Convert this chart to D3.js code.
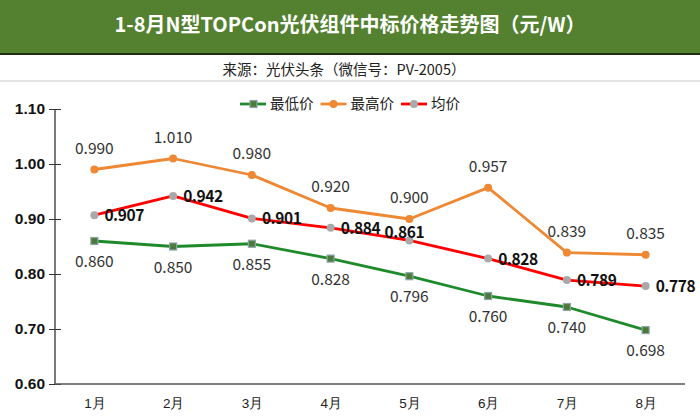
<!DOCTYPE html>
<html><head><meta charset="utf-8">
<script src="https://cdn.jsdelivr.net/npm/d3@7"></script>
<style>
body{margin:0;background:#fff;}
svg{display:block;font-family:"Noto Sans CJK SC","Noto Sans",sans-serif;}
</style></head>
<body><svg id="c" width="700" height="420"></svg>
<script>
const months = ["1月","2月","3月","4月","5月","6月","7月","8月"];
const minPrice = [0.860,0.850,0.855,0.828,0.796,0.760,0.740,0.698];
const maxPrice = [0.990,1.010,0.980,0.920,0.900,0.957,0.839,0.835];
const avgPrice = [0.907,0.942,0.901,0.884,0.861,0.828,0.789,0.778];
const yTicks = [0.60,0.70,0.80,0.90,1.00,1.10];
const seriesNames = ["最低价","最高价","均价"];
const titleText = "1-8月N型TOPCon光伏组件中标价格走势图（元/W）";
const sourceText = "来源：光伏头条（微信号：PV-2005）";

const svg = d3.select("#c");
const W = 700;

// header
svg.append("rect").attr("x",0).attr("y",0).attr("width",W).attr("height",53).attr("fill","#53812f");
svg.append("rect").attr("x",0).attr("y",53).attr("width",W).attr("height",2).attr("fill","#1d2e12");
svg.append("text").attr("x",350).attr("y",32).attr("text-anchor","middle")
  .attr("fill","#fff").attr("font-size",20).attr("font-weight","bold").text(titleText);
svg.append("text").attr("x",344).attr("y",75).attr("text-anchor","middle")
  .attr("fill","#222").attr("font-size",14.5).text(sourceText);
svg.append("rect").attr("x",0).attr("y",80).attr("width",W).attr("height",2).attr("fill","#e4e4e4");

const x = d3.scalePoint().domain(months).range([55,685]).padding(0.5);
const y = d3.scaleLinear().domain([0.6,1.1]).range([384,109]);

// y axis
const yAxis = svg.append("g").attr("transform","translate(55,0)")
  .call(d3.axisLeft(y).tickValues(yTicks).tickFormat(d3.format(".2f")).tickSizeInner(6).tickSizeOuter(0));
yAxis.select(".domain").attr("stroke","#333").attr("stroke-width",1.3);
yAxis.selectAll(".tick line").attr("stroke","#333").attr("x2",-6).attr("x1",6);
yAxis.selectAll(".tick text").attr("x",-10).attr("font-size",15.5).attr("font-weight","bold")
  .attr("fill","#111").attr("font-family","'Liberation Sans',Arial,sans-serif");
yAxis.select(".domain").attr("d","M0,109V384");

// x axis
const xAxis = svg.append("g").attr("transform","translate(0,384)")
  .call(d3.axisBottom(x).tickSize(0).tickPadding(14));
xAxis.select(".domain").attr("stroke","#555").attr("stroke-width",1.5).attr("d","M55,0H685");
xAxis.selectAll(".tick text").attr("font-size",13.5).attr("fill","#222");

const line = d3.line().x((d,i)=>x(months[i])).y(d=>y(d));

// series
const colors = {min:"#1f8a2b", max:"#ee8833", avg:"#ff0000"};
function drawLine(data,color){
  svg.append("path").datum(data).attr("d",line).attr("fill","none")
    .attr("stroke",color).attr("stroke-width",2.8).attr("stroke-linejoin","round");
}
drawLine(maxPrice,colors.max);
drawLine(minPrice,colors.min);
drawLine(avgPrice,colors.avg);

// markers
svg.append("g").selectAll("circle").data(maxPrice).join("circle")
  .attr("cx",(d,i)=>x(months[i])).attr("cy",d=>y(d)).attr("r",4).attr("fill",colors.max);
svg.append("g").selectAll("rect").data(minPrice).join("rect")
  .attr("x",(d,i)=>x(months[i])-3.5).attr("y",d=>y(d)-3.5).attr("width",7).attr("height",7)
  .attr("fill","#4d7a3a").attr("stroke","#8aa6a8").attr("stroke-width",1.2);
svg.append("g").selectAll("circle").data(avgPrice).join("circle")
  .attr("cx",(d,i)=>x(months[i])).attr("cy",d=>y(d)).attr("r",4).attr("fill","#a9a9a9");

// labels
const fmt = d3.format(".3f");
svg.append("g").selectAll("text").data(maxPrice).join("text")
  .attr("x",(d,i)=>x(months[i])).attr("y",d=>y(d)-16).attr("text-anchor","middle")
  .attr("font-size",15.5).attr("fill","#333").text(fmt);
svg.append("g").selectAll("text").data(minPrice).join("text")
  .attr("x",(d,i)=>x(months[i])).attr("y",d=>y(d)+26).attr("text-anchor","middle")
  .attr("font-size",15.5).attr("fill","#333").text(fmt);
const avgPlace = ["r","r","r","r","t","r","r","r"];
svg.append("g").selectAll("text").data(avgPrice).join("text")
  .attr("x",(d,i)=>avgPlace[i]==="t" ? x(months[i])-5 : x(months[i])+10)
  .attr("y",(d,i)=>avgPlace[i]==="t" ? y(d)-2 : y(d)+6)
  .attr("text-anchor",(d,i)=>avgPlace[i]==="t"?"middle":"start")
  .attr("letter-spacing",-0.4)
  .attr("font-size",15.5).attr("font-weight","bold").attr("fill","#111").text(fmt);

// legend
const leg = svg.append("g");
const legColors = [colors.min,colors.max,colors.avg];
let lx = 240; const ly = 104;
seriesNames.forEach((n,i)=>{
  leg.append("line").attr("x1",lx).attr("x2",lx+26).attr("y1",ly).attr("y2",ly)
    .attr("stroke",legColors[i]).attr("stroke-width",2.8);
  if(i===0){
    leg.append("rect").attr("x",lx+10).attr("y",ly-3.5).attr("width",7).attr("height",7)
      .attr("fill","#4d7a3a").attr("stroke","#8aa6a8").attr("stroke-width",1.2);
  } else {
    leg.append("circle").attr("cx",lx+13).attr("cy",ly).attr("r",4)
      .attr("fill", i===1?colors.max:"#a9a9a9");
  }
  const t = leg.append("text").attr("x",lx+30).attr("y",ly+5).attr("font-size",14.5)
    .attr("fill","#222").text(n);
  lx += 30 + t.node().getComputedTextLength() + 7;
});
</script>
</body></html>
